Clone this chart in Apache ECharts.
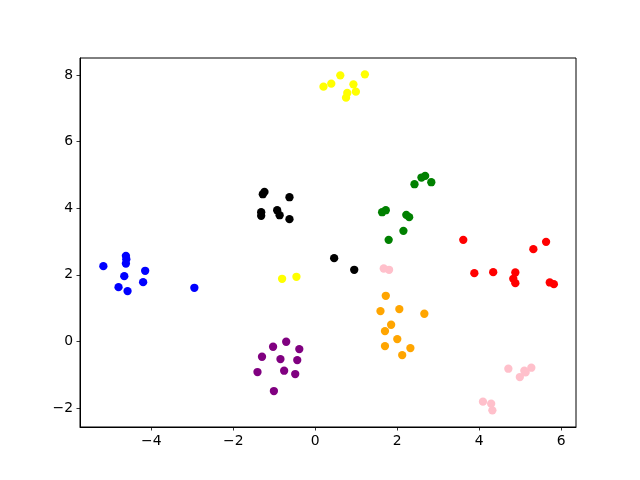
<!DOCTYPE html>
<html>
<head>
<meta charset="utf-8">
<script src="https://cdn.jsdelivr.net/npm/echarts@6/dist/echarts.min.js"></script>
<style>
  html, body { margin: 0; padding: 0; background: #fff; }
  #main { width: 640px; height: 480px; }
</style>
</head>
<body>
<div id="main"></div>
<script>
// point clusters: [x, y]
var bluePts = [[-5.17, 2.26], [-4.62, 2.57], [-4.61, 2.47], [-4.62, 2.34], [-4.15, 2.12],
    [-4.66, 1.96], [-4.20, 1.78], [-4.80, 1.63], [-4.58, 1.51], [-2.95, 1.61]];
var blackPts = [[-1.24, 4.49], [-1.28, 4.42], [-0.63, 4.33], [-1.32, 3.88], [-1.32, 3.77],
    [-0.93, 3.94], [-0.87, 3.79], [-0.63, 3.67], [0.46, 2.50], [0.95, 2.15]];
var yellowPts = [[0.20, 7.65], [0.39, 7.74], [0.61, 7.99], [1.21, 8.02], [0.93, 7.72],
    [0.99, 7.50], [0.78, 7.46], [0.75, 7.32], [-0.81, 1.88], [-0.46, 1.94]];
var greenPts = [[2.59, 4.92], [2.68, 4.97], [2.42, 4.72], [2.83, 4.78], [1.63, 3.88],
    [1.72, 3.94], [2.22, 3.80], [2.29, 3.73], [2.15, 3.32], [1.79, 3.05]];
var redPts = [[3.61, 3.05], [5.63, 2.99], [5.32, 2.77], [3.88, 2.05], [4.34, 2.08],
    [4.88, 2.07], [4.83, 1.88], [4.88, 1.75], [5.72, 1.77], [5.82, 1.72]];
var pinkPts = [[1.67, 2.19], [1.80, 2.15], [4.71, -0.82], [5.10, -0.88], [5.27, -0.79],
    [4.99, -1.07], [5.13, -0.93], [4.09, -1.81], [4.29, -1.87], [4.32, -2.07]];
var orangePts = [[1.72, 1.37], [1.59, 0.91], [2.05, 0.97], [2.66, 0.83], [1.85, 0.50],
    [1.70, 0.31], [2.00, 0.07], [1.70, -0.14], [2.32, -0.20], [2.12, -0.41]];
var purplePts = [[-0.71, -0.01], [-1.03, -0.16], [-0.39, -0.23], [-1.30, -0.46], [-0.85, -0.53],
    [-0.44, -0.56], [-1.41, -0.92], [-0.76, -0.88], [-0.49, -0.98], [-1.01, -1.49]];

var groups = [
    { pts: bluePts, color: '#0000ff' },
    { pts: blackPts, color: '#000000' },
    { pts: yellowPts, color: '#ffff00' },
    { pts: greenPts, color: '#008000' },
    { pts: redPts, color: '#ff0000' },
    { pts: pinkPts, color: '#ffc0cb' },
    { pts: orangePts, color: '#ffa500' },
    { pts: purplePts, color: '#800080' }
];

var xRange = [-5.74, 6.36];
var yRange = [-2.57, 8.51];

function tickLabel(v) {
    // only the even ticks, matplotlib style minus
    if (Math.abs(v / 2 - Math.round(v / 2)) > 1e-6) return '';
    return String(Math.round(v)).replace('-', '\u2212');
}

var axisCommon = {
    type: 'value',
    splitNumber: 5,
    axisLine: { show: true, onZero: false, lineStyle: { color: '#000', width: 1 } },
    axisTick: { show: true, inside: false, length: 3.5, lineStyle: { color: '#000', width: 0.8 } },
    splitLine: { show: false },
    axisLabel: {
        color: '#000',
        fontFamily: 'DejaVu Sans',
        fontSize: 13.9,
        margin: 7,
        showMinLabel: false,
        showMaxLabel: false,
        formatter: tickLabel
    }
};

var chart = echarts.init(document.getElementById('main'), null, { renderer: 'canvas' });

var option = {
    animation: false,
    backgroundColor: '#fff',
    grid: {
        left: 80, right: 64, top: 58, bottom: 53,
        show: true,
        borderColor: '#000',
        borderWidth: 1,
        backgroundColor: 'transparent'
    },
    xAxis: Object.assign({}, axisCommon, { min: xRange[0], max: xRange[1] }),
    yAxis: Object.assign({}, axisCommon, { min: yRange[0], max: yRange[1] }),
    series: groups.map(function (g) {
        return {
            type: 'scatter',
            data: g.pts,
            symbol: 'circle',
            symbolSize: 8.3,
            itemStyle: { color: g.color, opacity: 1 }
        };
    })
};

chart.setOption(option);
</script>
</body>
</html>
